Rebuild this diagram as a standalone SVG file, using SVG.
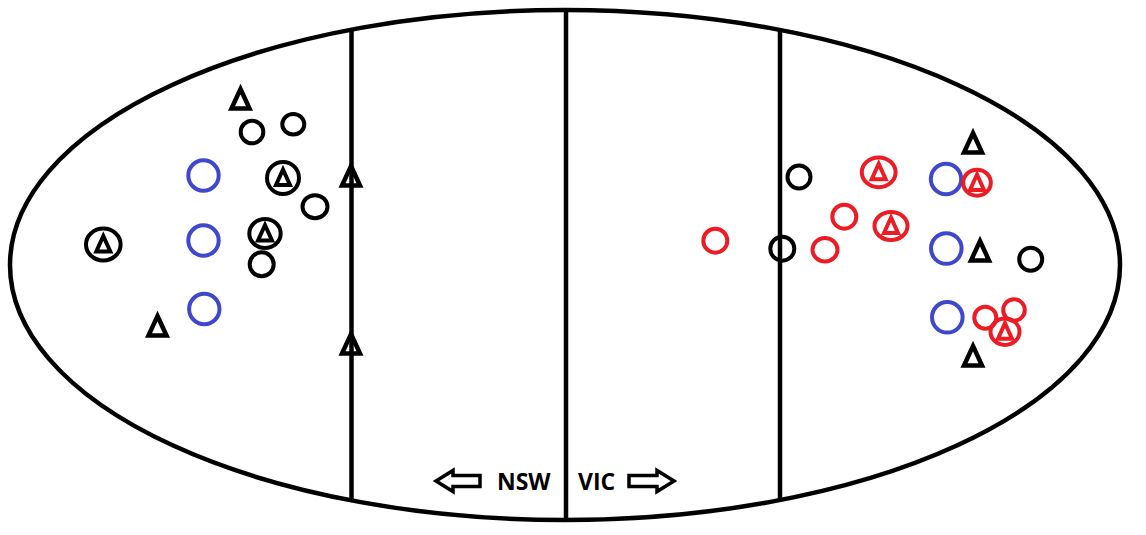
<svg xmlns="http://www.w3.org/2000/svg" width="1146" height="535" viewBox="0 0 1146 535">
<style>
.ln{stroke:#000;stroke-width:4.5;fill:none}
.k{stroke:#000;stroke-width:4;fill:none}
.b{stroke:#3f48cc;stroke-width:4;fill:none}
.r{stroke:#ed1c24;stroke-width:4;fill:none}
.t{stroke-width:4.5}
.lbl{font-family:"Open Sans","Liberation Sans",sans-serif;font-weight:bold;font-size:23px;fill:#000}
.ar{stroke:#000;stroke-width:3.5;fill:#fff;stroke-linejoin:miter}
</style>
<defs>
<path id="tri" d="M0,-11 L9,8.5 L-9,8.5 Z"/>
<path id="itri" d="M0,-8.5 L7,7 L-7,7 Z"/>
</defs>
<rect width="1146" height="535" fill="#fff"/>
<g id="field">
<ellipse cx="565" cy="265" rx="555" ry="255" class="ln" stroke-width="4"/>
<line x1="351.5" y1="30" x2="351.5" y2="500" class="ln"/>
<line x1="566" y1="10" x2="566" y2="520" class="ln"/>
<line x1="780" y1="30" x2="780" y2="500" class="ln"/>
</g>
<g id="connectors"></g>
<g id="left-team">
<use id="lt1" href="#tri" x="240.5" y="100" class="k t"/>
<circle id="lc1" cx="252" cy="132" r="11.3" class="k"/>
<ellipse id="lc2" cx="293.3" cy="124.3" rx="11" ry="10.3" class="k"/>
<circle id="lb1" cx="203.5" cy="175.5" r="15.2" class="b"/>
<g id="lct1"><circle cx="283" cy="178" r="16" class="k"/><use href="#itri" x="283" y="178" class="k"/></g>
<ellipse id="lc3" cx="315" cy="206.7" rx="12.5" ry="11.5" class="k"/>
<g id="lct2"><ellipse cx="265" cy="233.5" rx="15.7" ry="14.5" class="k"/><use href="#itri" x="265" y="233.5" class="k"/></g>
<circle id="lc4" cx="261.7" cy="264.3" r="12" class="k"/>
<g id="lct3"><ellipse cx="103.3" cy="244.5" rx="17.3" ry="16" class="k"/><use href="#itri" x="103.3" y="244.5" class="k"/></g>
<circle id="lb2" cx="203.5" cy="240.5" r="15.2" class="b"/>
<circle id="lb3" cx="204.3" cy="309" r="15.2" class="b"/>
<use id="lt2" href="#tri" x="157.5" y="327" class="k t"/>
<use id="lt3" href="#tri" x="351" y="177" class="k t"/>
<use id="lt4" href="#tri" x="351" y="345" class="k t"/>
</g>
<g id="right-team">
<use id="rt1" href="#tri" x="973" y="144" class="k t"/>
<circle id="rk1" cx="799" cy="177" r="11.5" class="k"/>
<g id="rrt1"><ellipse cx="878.7" cy="172.3" rx="16.9" ry="14.9" class="r"/><use href="#itri" x="878.7" y="172.3" class="r"/></g>
<circle id="rb1" cx="946" cy="179" r="15.2" class="b"/>
<g id="rrt2"><ellipse cx="977" cy="182.7" rx="13.8" ry="13" class="r"/><use href="#itri" x="977" y="183" class="r"/></g>
<circle id="rr1" cx="844.3" cy="216.7" r="12" class="r"/>
<g id="rrt3"><ellipse cx="891" cy="226" rx="16.5" ry="14" class="r"/><use href="#itri" x="891" y="226" class="r"/></g>
<circle id="rr2" cx="715.3" cy="240.7" r="12" class="r"/>
<circle id="rk2" cx="782.3" cy="248.7" r="12" class="k"/>
<ellipse id="rr3" cx="825" cy="249.7" rx="12.5" ry="11.7" class="r"/>
<circle id="rb2" cx="946.3" cy="248.5" r="15.3" class="b"/>
<use id="rt2" href="#tri" x="980" y="252" class="k t"/>
<circle id="rk3" cx="1030.7" cy="259.3" r="11.5" class="k"/>
<circle id="rb3" cx="947.3" cy="317.3" r="15.3" class="b"/>
<circle id="rr4" cx="985.3" cy="317.7" r="11" class="r"/>
<circle id="rr5" cx="1014" cy="310" r="10.8" class="r"/>
<g id="rrt4"><ellipse cx="1005" cy="331.7" rx="14.5" ry="13.2" class="r"/><use href="#itri" x="1005" y="331.7" class="r"/></g>
<use id="rt3" href="#tri" x="973" y="357" class="k t"/>
</g>
<g id="nsw-label">
<path class="ar" d="M436,481 L453,470.5 L453,475.5 L480,475.5 L480,486.5 L453,486.5 L453,491.5 Z"/>
<text class="lbl" x="497" y="490">NSW</text>
</g>
<g id="vic-label">
<text class="lbl" x="578" y="490">VIC</text>
<path class="ar" d="M674,481 L657,470.5 L657,475.5 L629,475.5 L629,486.5 L657,486.5 L657,491.5 Z"/>
</g>
</svg>
